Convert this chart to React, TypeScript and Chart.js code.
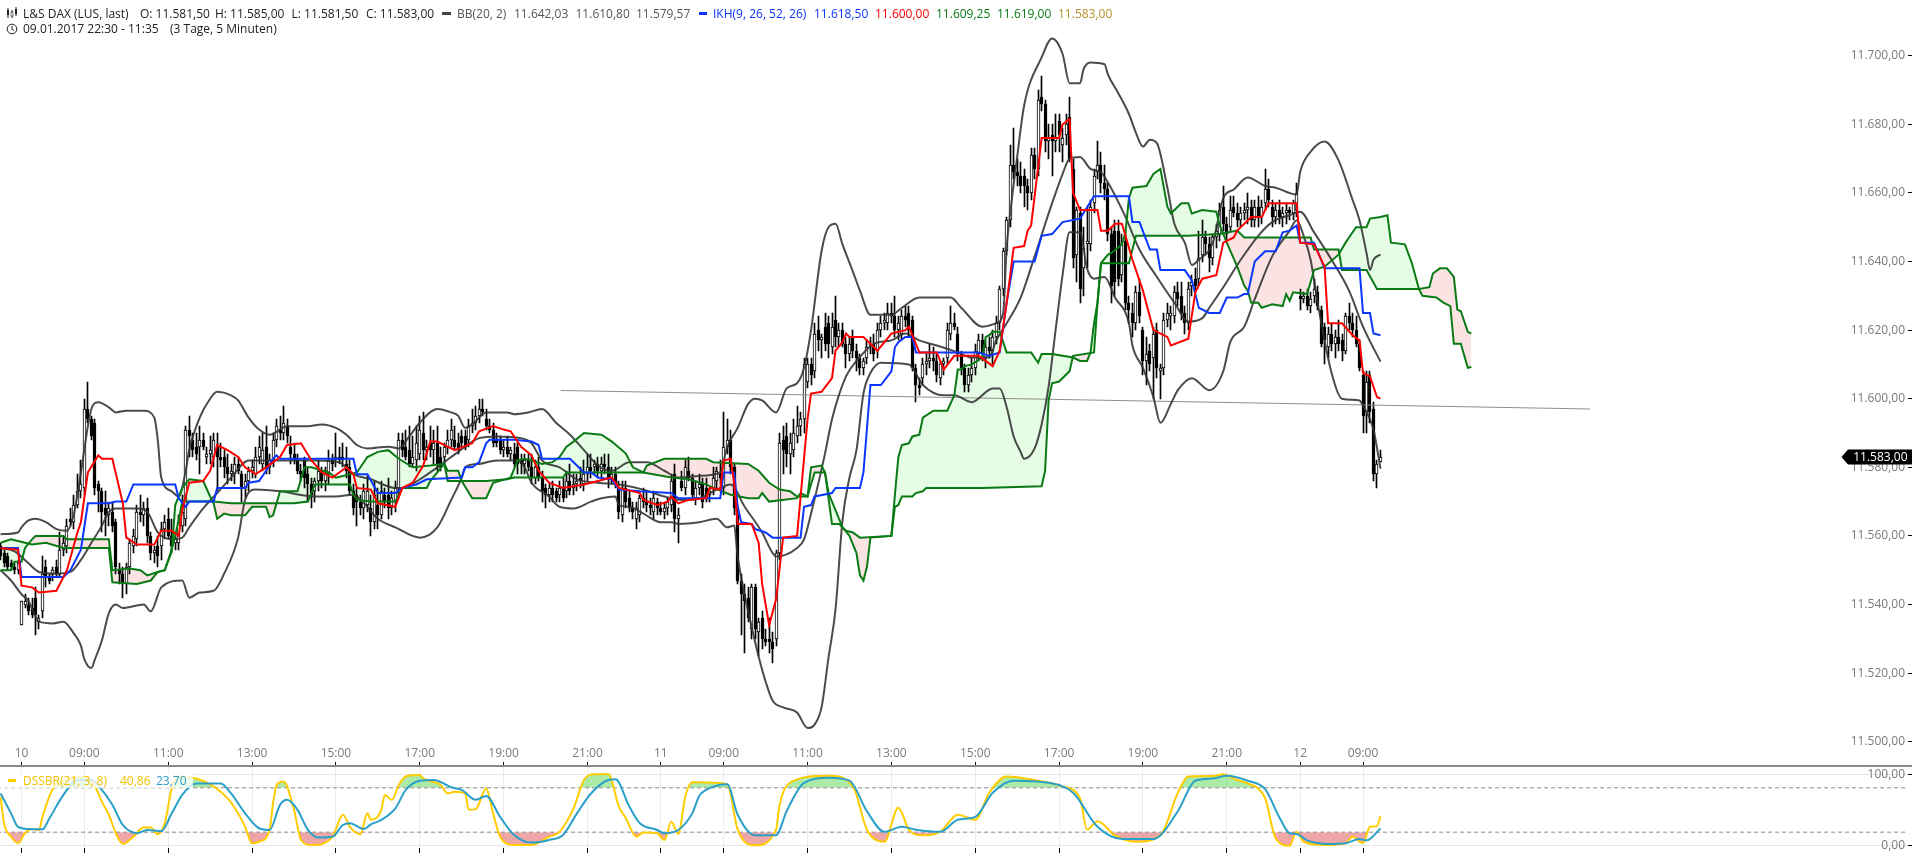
import React, { useEffect, useRef } from "react";
import { Chart, registerables } from "chart.js";

Chart.register(...registerables);

type Row = [number, number, number, number];
type Pt = [number, number];

// candles: [open, high, low, close], one row per 5-minute bar
const candles09to10: Row[] = [
[11557,11558,11553,11554],[11555,11556,11551,11552],[11554,11555,11550,11551],[11552,11553,11550,11551],[11551,11552,11549,11550],[11550,11553,11549,11552],
[11534,11541,11534,11541],[11540,11543,11539,11541],[11540,11542,11537,11538],[11539,11542,11536,11537],[11542,11545,11531,11537],[11535,11537,11533,11536],
[11538,11554,11536,11549],[11551,11553,11545,11548],[11548,11549,11546,11547],[11549,11551,11547,11550],[11551,11553,11548,11549],[11549,11561,11548,11556],
[11556,11560,11554,11558],[11557,11565,11555,11563],[11565,11568,11563,11564],[11564,11572,11562,11569],[11569,11578,11568,11573],[11573,11582,11571,11575],
[11574,11600,11572,11597],[11597,11605,11593,11594],[11594,11595,11588,11589],[11593,11594,11572,11574],[11575,11576,11567,11573],[11573,11574,11561,11567],
[11568,11573,11560,11566],[11566,11570,11563,11568],[11567,11570,11561,11563],[11564,11565,11549,11551],[11550,11552,11546,11549],[11549,11551,11542,11546],
[11546,11552,11543,11551],[11551,11559,11549,11558],[11557,11562,11555,11560],[11559,11569,11557,11567],[11567,11572,11564,11566],[11566,11570,11563,11568],
[11568,11571,11558,11560],[11560,11561,11553,11555],[11555,11557,11552,11556],[11557,11560,11551,11554],[11557,11564,11553,11562],[11562,11566,11559,11564],
[11565,11568,11559,11560],[11560,11565,11555,11557],[11558,11560,11556,11559],[11558,11566,11556,11564],[11563,11572,11561,11567],[11565,11592,11563,11591],
[11591,11595,11583,11589],[11588,11590,11583,11585],[11586,11590,11582,11584],[11586,11592,11578,11588],[11588,11590,11585,11586],[11583,11586,11581,11584],
[11584,11589,11581,11585],[11583,11590,11580,11588],[11586,11590,11573,11583],[11583,11587,11580,11582],[11583,11585,11577,11580],[11580,11584,11575,11578],
[11578,11581,11576,11579],[11578,11583,11575,11581],[11581,11583,11578,11579],[11578,11579,11570,11574],[11574,11578,11571,11576],[11576,11580,11573,11579],
[11579,11582,11577,11580],[11578,11586,11577,11583],[11583,11589,11581,11586],[11581,11590,11579,11585],[11586,11592,11578,11580],[11580,11584,11578,11582],
[11582,11590,11580,11588],[11588,11594,11586,11592],[11591,11595,11588,11590],[11590,11598,11588,11593],[11592,11594,11587,11589],[11586,11589,11581,11584],
[11584,11587,11581,11582],[11582,11584,11578,11579],[11579,11581,11576,11578],[11582,11583,11574,11577],[11578,11580,11570,11575],[11575,11577,11568,11572],
[11573,11577,11570,11576],[11576,11582,11573,11579],[11579,11580,11574,11576],[11576,11580,11573,11578],[11578,11585,11575,11582],[11582,11584,11579,11581],
[11582,11590,11580,11583],[11583,11586,11581,11582],[11583,11587,11580,11582],[11581,11586,11577,11579],[11580,11582,11572,11573],[11573,11575,11566,11568],
[11572,11574,11563,11570],[11570,11572,11566,11568],[11568,11575,11565,11573],[11569,11578,11567,11573],[11568,11572,11560,11564],[11564,11576,11562,11572],
[11569,11574,11562,11566],[11566,11576,11565,11573],[11572,11574,11568,11570],[11572,11577,11565,11568],[11568,11573,11566,11571],[11570,11576,11567,11574],
[11574,11590,11572,11588],[11588,11590,11583,11585],[11586,11591,11582,11583],[11585,11592,11580,11581],[11581,11589,11580,11583],[11582,11592,11579,11587],
[11584,11595,11582,11591],[11590,11596,11582,11585],[11585,11588,11582,11586],[11587,11592,11583,11585],[11585,11591,11581,11587],[11587,11592,11579,11581],
[11583,11586,11579,11580],[11583,11587,11581,11586],[11586,11591,11584,11588],[11588,11594,11586,11591],[11588,11592,11585,11586],[11587,11590,11584,11585],
[11589,11591,11586,11587],[11589,11591,11585,11586],[11588,11594,11586,11592],[11592,11597,11590,11593],[11593,11598,11591,11595],[11595,11600,11593,11597],
[11597,11600,11595,11596],[11594,11597,11591,11592],[11592,11594,11590,11591],[11591,11593,11586,11587],[11588,11590,11586,11587],[11588,11589,11584,11585],
[11585,11588,11583,11586],[11586,11589,11583,11584],[11584,11586,11582,11585],[11584,11587,11580,11581],[11586,11587,11578,11581],[11582,11584,11578,11581],
[11581,11584,11578,11582],[11582,11584,11579,11580],[11580,11584,11575,11577],[11577,11582,11575,11580],[11580,11583,11576,11577],[11577,11579,11570,11573],
[11574,11575,11568,11572],[11572,11575,11570,11574],[11574,11576,11570,11572],[11573,11574,11570,11571],[11572,11576,11570,11574],[11574,11577,11570,11571],
[11573,11579,11571,11576],[11576,11581,11572,11573],[11574,11578,11572,11575],[11575,11578,11573,11576],[11577,11580,11574,11576],[11575,11582,11573,11578],
[11578,11584,11576,11580],[11580,11584,11577,11579],[11580,11582,11578,11581],[11581,11583,11577,11579],[11579,11583,11577,11581],[11581,11584,11578,11580],
[11580,11584,11574,11577],[11577,11580,11575,11578],[11578,11580,11574,11575],[11574,11576,11565,11567],[11566,11576,11564,11574],[11574,11576,11568,11570],
[11571,11573,11567,11568],[11568,11570,11565,11567],[11565,11570,11562,11568],[11566,11572,11564,11571],[11571,11574,11568,11570],[11570,11573,11567,11569],
[11569,11571,11566,11568],[11567,11573,11565,11571],[11570,11571,11566,11568],[11568,11570,11566,11567],[11567,11570,11565,11568],[11568,11571,11566,11570],
[11569,11578,11567,11576],[11578,11581,11561,11565],[11565,11568,11558,11566],[11576,11579,11573,11574],[11574,11582,11572,11580],[11579,11583,11576,11577],
[11577,11578,11571,11572],[11571,11576,11569,11574],[11574,11578,11572,11575],[11575,11577,11568,11570],[11574,11577,11570,11571],[11572,11574,11570,11573],
[11574,11580,11572,11577],[11576,11580,11574,11579],[11578,11582,11575,11577],
];
const candles11Open: Row[] = [
[11574,11596,11572,11586],[11586,11594,11584,11588],[11588,11591,11578,11580],[11580,11581,11566,11568],[11568,11569,11546,11547],[11547,11549,11531,11543],
[11543,11546,11526,11541],[11542,11545,11535,11536],[11533,11546,11530,11545],[11545,11546,11530,11533],[11532,11536,11525,11535],[11536,11538,11527,11530],
[11530,11533,11528,11529],[11530,11536,11526,11529],[11529,11532,11523,11527],[11530,11556,11528,11555],[11555,11590,11553,11587],[11588,11592,11578,11585],
[11589,11593,11580,11584],[11584,11590,11578,11587],[11585,11594,11583,11590],[11589,11598,11587,11592],[11592,11596,11589,11594],[11594,11612,11590,11610],
[11605,11612,11603,11610],[11610,11612,11604,11607],[11608,11622,11606,11619],[11620,11624,11614,11617],[11617,11619,11612,11618],[11621,11625,11614,11616],
[11622,11624,11612,11616],[11615,11625,11613,11621],[11623,11630,11615,11618],[11618,11622,11615,11620],[11620,11622,11615,11616],[11616,11618,11609,11613],
[11613,11618,11611,11616],[11618,11620,11612,11614],[11614,11616,11608,11612],[11612,11613,11607,11609],[11609,11612,11607,11611],[11612,11617,11610,11615],
[11615,11618,11613,11616],[11616,11619,11611,11613],[11614,11622,11612,11620],[11620,11624,11618,11622],[11622,11625,11620,11623],[11622,11628,11620,11625],
[11625,11628,11622,11624],[11624,11630,11618,11620],[11620,11624,11617,11622],[11619,11626,11617,11624],[11624,11627,11621,11623],[11625,11627,11618,11620],
[11623,11624,11608,11609],[11609,11610,11599,11604],[11604,11606,11601,11603],[11606,11612,11604,11610],[11610,11613,11607,11611],[11611,11616,11609,11612],
[11612,11615,11608,11611],[11611,11613,11605,11607],[11606,11611,11604,11610],[11610,11612,11607,11611],[11612,11622,11610,11620],[11619,11627,11617,11622],
[11622,11625,11620,11621],[11619,11621,11611,11613],[11613,11614,11607,11609],[11609,11610,11602,11604],[11604,11609,11602,11607],[11607,11612,11605,11609],
[11609,11616,11607,11614],[11613,11619,11611,11617],[11617,11619,11611,11613],[11612,11617,11609,11615],[11615,11618,11612,11614],[11614,11620,11610,11618],
[11618,11624,11616,11622],[11622,11633,11620,11632],
];
const candles11Evening: Row[] = [
[11632,11644,11630,11643],[11643,11653,11642,11652],[11652,11674,11650,11668],[11668,11679,11664,11666],[11666,11670,11662,11665],[11665,11669,11660,11662],
[11665,11667,11656,11662],[11662,11664,11655,11660],[11660,11673,11658,11671],[11671,11673,11664,11667],[11667,11690,11665,11687],[11688,11694,11684,11686],
[11686,11687,11672,11675],[11675,11680,11670,11676],[11677,11680,11665,11675],[11675,11683,11672,11676],[11681,11683,11672,11677],[11674,11679,11669,11676],
[11677,11683,11674,11680],[11682,11688,11669,11670],[11667,11670,11638,11641],[11642,11656,11634,11655],[11654,11656,11628,11632],[11638,11650,11630,11644],
[11645,11656,11638,11646],[11645,11658,11643,11656],[11657,11667,11654,11665],[11666,11675,11664,11668],[11668,11672,11660,11663],[11663,11668,11658,11661],
[11661,11663,11646,11648],[11648,11650,11628,11633],[11649,11652,11630,11634],[11649,11652,11633,11635],[11636,11648,11634,11645],[11646,11649,11626,11628],
[11628,11630,11622,11626],[11625,11628,11618,11622],[11622,11633,11620,11631],[11631,11635,11622,11624],[11620,11621,11607,11611],[11611,11618,11604,11613],
[11614,11616,11608,11610],[11612,11621,11600,11619],[11620,11622,11606,11609],[11608,11610,11600,11609],[11609,11625,11607,11623],[11623,11628,11621,11625],
[11624,11627,11620,11625],[11624,11633,11622,11631],[11631,11634,11627,11629],[11630,11634,11623,11625],[11625,11627,11619,11622],[11622,11634,11620,11632],
[11633,11636,11630,11634],[11635,11638,11631,11633],[11635,11649,11633,11641],[11642,11652,11640,11647],[11647,11649,11642,11645],[11645,11647,11637,11641],
[11641,11648,11639,11647],[11647,11651,11644,11649],[11648,11657,11646,11655],[11656,11662,11649,11651],[11651,11653,11646,11648],[11650,11659,11649,11655],
[11656,11659,11653,11654],[11654,11657,11650,11652],[11652,11656,11650,11654],[11654,11657,11652,11655],[11655,11660,11651,11656],[11656,11658,11650,11652],
[11652,11658,11650,11656],[11656,11659,11650,11653],[11653,11658,11651,11656],[11657,11667,11655,11661],[11661,11664,11656,11658],[11656,11658,11650,11653],
[11653,11657,11651,11655],[11655,11658,11651,11653],[11653,11656,11650,11654],[11654,11657,11651,11655],[11655,11656,11652,11654],[11654,11658,11652,11657],
[11655,11663,11653,11660],
];
const candles12: Row[] = [
[11630,11632,11626,11629],[11629,11631,11628,11630],[11630,11632,11626,11627],[11627,11631,11625,11629],[11630,11635,11628,11632],[11631,11633,11626,11627],
[11626,11627,11615,11616],[11621,11622,11610,11617],[11615,11621,11612,11619],[11619,11622,11614,11616],[11616,11620,11612,11618],[11618,11623,11614,11616],
[11617,11619,11611,11614],[11614,11625,11613,11624],[11624,11628,11620,11622],[11622,11625,11618,11620],[11620,11624,11615,11616],[11616,11617,11608,11609],
[11607,11608,11590,11595],[11596,11608,11590,11605],[11607,11608,11593,11596],[11597,11599,11576,11578],[11578,11582,11574,11581],[11581.5,11585,11581.5,11583],
];

// Bollinger bands [bar, price]
const bbUpper: Pt[] = [[0,11560.5],[5,11561],[6,11562.5],[8,11564.5],[10,11565],[13,11564],[16,11562],[19,11561.5],[21,11566.5],[23,11578.5],[25,11592],[26,11597],[28,11599],[31,11597.5],[33,11596],[36,11596.5],[41,11596.5],[44,11594.5],[45,11588],[46,11577],[49,11573],[51,11571.5],[53,11579],[54,11585],[57,11594.5],[60,11600],[62,11602],[66,11601],[68,11599.5],[71,11594.5],[74,11591],[77,11589.5],[82,11592],[88,11592],[92,11592.5],[96,11591.5],[99,11589.5],[102,11586.5],[105,11585.5],[111,11586],[114,11585.5],[117,11589],[120,11593],[125,11597],[129,11596],[131,11595],[133,11591.5],[135,11592.5],[139,11596],[145,11596],[147,11595.5],[151,11596],[155,11597],[159,11593],[163,11589.5],[167,11585],[171,11580.5],[175,11579],[180,11581.5],[185,11581.5],[190,11579],[194,11577],[200,11577.5],[206,11578.5],[208,11586],[211,11591.5],[214,11598.5],[216,11600],[218,11599.5],[222,11596],[225,11603],[228,11604.5],[230,11609],[232,11620],[235,11643],[237,11650],[239,11651],[241,11645],[244,11637],[246,11631.5],[249,11624.5],[255,11624.5],[258,11626.5],[263,11629.5],[272,11629.5],[275,11626.5],[281,11621],[285,11622],[287,11625],[288,11644],[289,11654],[291,11670.5],[293,11685.5],[298,11699.5],[301,11705],[304,11700.5],[306,11692],[309,11692],[310,11696],[312,11698],[316,11697.5],[317,11694.5],[320,11689],[323,11683],[325,11677.5],[327,11673.5],[329,11675.5],[331,11674.5],[334,11661.5],[336,11651],[339,11645.5],[341,11639],[343,11640.5],[347,11645.5],[350,11658.5],[353,11661],[357,11664.5],[362,11662],[365,11661.5],[371,11659.5],[372,11666],[375,11672],[379,11675],[383,11669.5],[387,11658],[389,11652],[391,11642.5],[392,11637.5],[393,11640.5],[395,11642.03]];
const bbMiddle: Pt[] = [[0,11556.5],[4,11555.5],[8,11552],[11,11549.5],[16,11549],[20,11549.5],[23,11553],[26,11558],[29,11563],[31,11567],[33,11568],[39,11568],[42,11567],[45,11561],[49,11559],[52,11559.5],[54,11562.5],[58,11568],[62,11572.5],[66,11577],[71,11582],[75,11582],[90,11582],[97,11581.5],[101,11578],[106,11576.5],[113,11574],[115,11574],[120,11576.5],[125,11580],[131,11584.5],[137,11588.5],[142,11589],[149,11588.5],[152,11587],[155,11582],[160,11580],[165,11576.5],[171,11575.5],[177,11575],[184,11573.5],[190,11571.5],[195,11570.5],[200,11571],[205,11573.5],[209,11575],[213,11568.5],[218,11561],[221,11555],[222,11554],[228,11556.5],[230,11559],[232,11566.5],[236,11584],[238,11594],[242,11606.5],[245,11611],[250,11616],[255,11617],[259,11619],[263,11617],[268,11615.5],[274,11613.5],[278,11612],[283,11612],[285,11617],[288,11622],[292,11629.5],[296,11641.5],[301,11657],[304,11665.5],[306,11670],[309,11670.5],[312,11667],[315,11666],[317,11663],[322,11653],[326,11643.5],[331,11635.5],[336,11628],[340,11622.5],[344,11623.5],[346,11626.5],[350,11632.5],[355,11640.5],[360,11647.5],[364,11651.5],[369,11653.5],[372,11654.5],[376,11648.5],[381,11640.5],[386,11631.5],[390,11621],[395,11610.8]];
const bbLower: Pt[] = [[0,11550],[3,11547],[6,11543],[8,11541],[11,11535],[15,11534.5],[18,11535],[21,11531.5],[23,11528],[24,11524],[26,11521.5],[27,11524],[29,11529.5],[31,11537.5],[33,11540],[35,11539],[41,11540],[43,11538],[46,11545],[52,11547],[54,11542],[57,11543.5],[61,11544],[64,11549],[68,11559.5],[70,11570.5],[73,11573.5],[80,11573],[90,11571.5],[96,11571.5],[101,11572],[104,11569.5],[108,11565],[113,11562.5],[120,11559.5],[125,11562.5],[129,11570.5],[132,11577],[133,11580],[137,11581],[142,11582],[148,11582],[150,11580],[152,11575.5],[157,11571.5],[160,11568.5],[164,11568],[169,11570],[172,11571],[176,11571.5],[177,11569],[180,11568.5],[184,11566.5],[189,11564],[192,11564],[194,11563.5],[200,11564],[205,11565],[208,11562.5],[210,11563],[211,11554],[215,11533.5],[218,11521],[221,11512],[224,11510],[228,11508.5],[231,11504],[233,11505],[235,11510],[237,11524.5],[239,11538.5],[241,11564.5],[243,11577],[245,11585],[247,11601.5],[249,11607.5],[252,11610.5],[260,11610],[264,11604],[270,11601],[273,11601],[278,11599],[284,11603],[286,11603],[288,11597.5],[290,11589],[292,11584.5],[293,11582.5],[296,11585.5],[298,11592.5],[300,11603.5],[302,11620],[304,11636],[306,11648.5],[309,11648.5],[311,11638],[313,11635],[316,11635.5],[319,11629.5],[323,11622],[324,11615.5],[327,11609],[330,11600.5],[332,11593],[335,11598.5],[337,11602.5],[341,11606],[346,11602.5],[350,11608],[352,11616.5],[356,11621],[359,11629],[364,11641.5],[369,11649],[371,11652],[373,11647.5],[375,11640.5],[377,11628],[381,11607.5],[384,11600],[389,11599.5],[390,11598],[393,11591],[395,11579.57]];

// Ichimoku lines [bar, price]
const ikhTenkan: Pt[] = [[0,11556.5],[5,11556.5],[6,11548],[18,11548],[20,11550],[23,11556],[25,11569.5],[31,11569.5],[33,11570],[36,11570],[38,11575],[50,11575],[51,11571],[53,11568.5],[54,11570],[61,11570],[62,11574],[66,11574],[70,11574],[71,11575.5],[74,11576],[76,11579],[78,11582.5],[79,11583.5],[80,11582.5],[101,11582.5],[102,11578],[105,11578],[108,11572.5],[113,11572.5],[115,11574],[119,11575],[122,11576.5],[132,11577],[133,11580],[135,11580],[137,11581.5],[139,11587],[140,11588],[147,11588],[152,11587.5],[154,11586.5],[155,11582.5],[163,11582.5],[167,11578.5],[169,11578.5],[171,11577],[175,11576.5],[177,11573.5],[183,11573],[192,11572.5],[194,11571],[206,11571],[207,11578.5],[210,11578.5],[211,11568.5],[212,11564],[215,11563.5],[216,11562],[219,11561],[221,11559.5],[229,11559.5],[230,11568.5],[232,11569],[233,11571.5],[238,11572.5],[239,11574],[246,11574],[247,11578.5],[249,11604],[252,11604],[255,11608],[256,11615],[257,11616.5],[259,11618],[261,11618],[262,11613.5],[280,11613.5],[283,11612.5],[286,11613.5],[288,11628],[290,11640],[296,11640],[298,11647.5],[301,11648],[304,11651.5],[309,11652.5],[313,11659],[323,11659],[324,11651.5],[326,11651.5],[329,11643.5],[331,11643.5],[332,11637.5],[339,11637.5],[341,11634.5],[343,11626.5],[346,11625],[349,11625],[351,11629.5],[354,11629.5],[356,11630.5],[357,11630.5],[359,11640],[362,11643],[365,11643],[367,11648.5],[369,11649],[371,11650.5],[372,11645.5],[376,11645.5],[379,11638],[389,11638],[390,11625],[392,11625],[393,11619],[395,11618.5]];
const ikhKijun: Pt[] = [[0,11556.5],[5,11556],[6,11545.5],[9,11545],[11,11543.5],[16,11544],[19,11550],[22,11561],[23,11564],[25,11578.5],[28,11583.5],[29,11582.5],[32,11582.5],[35,11569.5],[36,11559.5],[39,11557.5],[44,11557.5],[46,11561.5],[49,11561.5],[51,11560],[52,11567.5],[54,11575.5],[58,11576],[60,11579],[62,11586.5],[65,11585],[68,11583],[70,11580],[73,11578],[76,11580],[80,11583],[82,11586.5],[86,11587],[89,11582],[92,11578.5],[95,11577],[99,11580],[101,11578],[102,11574],[106,11573.5],[108,11569.5],[113,11568.5],[115,11574],[118,11575.5],[121,11580.5],[123,11587.5],[125,11587.5],[130,11585],[135,11587],[137,11590.5],[141,11592],[144,11591],[146,11590.5],[149,11586],[152,11583.5],[154,11579],[157,11575.5],[161,11574],[167,11575],[171,11576],[175,11577],[177,11574],[183,11572.5],[184,11570.5],[188,11569],[191,11570],[192,11571.5],[194,11569.5],[197,11570.5],[202,11571],[203,11574],[206,11573.5],[207,11582],[209,11582.5],[210,11575.5],[211,11563.5],[215,11563.5],[217,11558],[218,11546],[220,11534],[222,11541.5],[224,11559.5],[228,11560],[231,11594],[232,11601.5],[235,11602],[238,11606],[239,11614],[241,11616.5],[242,11619],[243,11618],[247,11618],[249,11616],[251,11614],[255,11619],[259,11620],[260,11621],[263,11613.5],[268,11613.5],[270,11608.5],[273,11612.5],[280,11612.5],[284,11609.5],[286,11614],[288,11628],[290,11644],[293,11644.5],[294,11649],[295,11650.5],[298,11676],[303,11676],[304,11680],[306,11681.5],[307,11660],[309,11655],[314,11655],[315,11649],[317,11649],[319,11651],[321,11651],[324,11640.5],[327,11631.5],[330,11620],[334,11618],[335,11615.5],[340,11617.5],[342,11631],[344,11635],[348,11636],[350,11645.5],[353,11647],[354,11649],[358,11653],[361,11653],[363,11657],[371,11657],[372,11645.5],[376,11645],[379,11638.5],[380,11622],[384,11622],[387,11618.5],[389,11617],[390,11607.5],[392,11606.5],[394,11600.5],[395,11600]];
const senkouA: Pt[] = [[0,11558],[3,11559],[7,11558],[9,11557.5],[13,11558],[18,11556.5],[31,11556.5],[32,11546.5],[39,11546],[43,11547],[45,11549.5],[47,11550],[49,11555.5],[50,11569],[52,11574],[54,11576.5],[58,11576],[60,11571.5],[61,11569.5],[62,11565],[64,11566.5],[66,11566],[70,11566],[72,11568.5],[76,11568.5],[77,11565.5],[78,11566],[80,11573],[85,11573],[87,11580],[89,11580],[94,11578.5],[96,11577],[100,11578],[102,11578.5],[105,11583],[108,11584.5],[111,11585],[114,11582.5],[118,11580],[123,11580.5],[127,11581],[128,11576],[132,11576],[135,11571],[139,11571],[141,11575.5],[146,11577],[148,11582],[150,11582.5],[152,11582],[155,11581],[158,11581.5],[160,11583],[162,11586],[164,11587.5],[167,11590],[172,11589.5],[175,11587.5],[179,11584],[181,11580],[184,11578.5],[192,11577],[197,11576.5],[202,11575],[204,11574],[209,11572],[214,11571],[217,11571],[218,11572.5],[220,11570],[228,11571],[229,11572.5],[231,11571.5],[233,11578.5],[236,11578.5],[237,11572.5],[241,11562.5],[243,11560],[245,11555],[246,11548.5],[247,11547],[248,11551],[249,11559.5],[255,11560],[256,11572],[257,11583],[258,11586.5],[260,11587],[261,11589],[263,11589.5],[264,11594.5],[267,11596.5],[271,11596.5],[273,11601],[274,11608.5],[275,11608.5],[276,11609.5],[278,11610],[281,11612],[282,11618],[283,11618.5],[284,11619.5],[286,11619.5],[288,11613.5],[292,11613.5],[295,11613.5],[297,11610.5],[298,11613],[301,11613],[307,11612],[309,11611],[311,11611],[312,11613.5],[313,11622],[314,11628],[315,11639.5],[317,11642],[318,11642.5],[321,11645],[322,11648.5],[323,11658.5],[324,11661.5],[328,11662],[330,11665.5],[332,11667],[334,11656],[335,11654],[338,11657],[340,11657],[341,11654],[344,11655],[348,11654.5],[349,11650.5],[351,11645.5],[354,11638.5],[356,11633],[357,11631.5],[358,11628],[360,11628],[361,11626.5],[364,11627.5],[367,11627],[368,11630.5],[369,11628.5],[370,11631],[374,11630.5],[376,11637.5],[379,11638.5],[383,11642],[385,11645.5],[386,11647],[388,11650],[391,11650],[392,11652.5],[395,11653],[397,11653.5],[398,11645.5],[402,11645],[404,11639.5],[406,11632],[407,11630],[411,11629.5],[413,11628],[415,11627],[416,11616],[418,11616],[420,11609],[421,11609.25]];
const senkouB: Pt[] = [[0,11550],[3,11550],[4,11552.5],[6,11552.5],[7,11556.5],[9,11559],[10,11560],[18,11560],[19,11559],[31,11559],[32,11550],[37,11550.5],[40,11550],[42,11548.5],[45,11549.5],[47,11550],[49,11556],[51,11564.5],[52,11570],[61,11570],[66,11569.5],[84,11569.5],[88,11570],[90,11575],[100,11575],[101,11572],[102,11570.5],[106,11570],[113,11570],[115,11574],[122,11574],[123,11576],[127,11581],[128,11579],[131,11579],[132,11576],[139,11576],[145,11576.5],[147,11577],[161,11577],[162,11578.5],[169,11578.5],[184,11578.5],[185,11580.5],[190,11582.5],[202,11582.5],[204,11581.5],[214,11581],[217,11579],[220,11575.5],[223,11573.5],[226,11573],[228,11571.5],[231,11571.5],[232,11580],[235,11580.5],[236,11578.5],[238,11563.5],[240,11563.5],[242,11561.5],[244,11561],[246,11559.5],[255,11560],[256,11568.5],[257,11569],[258,11571.5],[261,11571.5],[262,11572.5],[264,11573],[265,11574],[281,11574],[298,11574.5],[299,11579],[300,11599.5],[301,11604.5],[303,11605],[306,11608],[307,11612.5],[313,11613.5],[314,11628],[315,11639.5],[323,11639.5],[325,11647.5],[340,11647.5],[349,11648],[354,11649],[356,11647],[375,11647],[376,11643.5],[383,11643.5],[384,11637.5],[391,11637.5],[394,11632],[406,11632],[409,11632.5],[410,11636.5],[412,11638],[414,11638],[416,11635.5],[417,11626],[418,11625.5],[420,11619.5],[421,11619]];
const trendLine: Pt[] = [[160.4,11602.4],[455,11597]];

// DSSBR oscillator [bar, value]
const dssSignal: Pt[] = [[0,68.5],[1,31],[3,12],[5,3],[7,17],[9,23],[11,21.6],[12,40],[15,80],[20,94],[24,97],[27,83],[29,61.5],[31,43],[33,17],[35,2],[38,12],[41,25],[43,25],[45,15.5],[47,31],[49,80],[51,97],[56,94],[61,83],[65,66],[68,45],[70,26],[72,3],[74,5],[77,21.6],[78,59],[79,85],[81,90],[84,50],[86,7.5],[89,0.5],[95,12],[98,43],[100,26],[103,15.5],[105,45],[106,36],[109,50],[110,71],[112,64],[114,85],[116,97],[120,99],[121,94],[126,85],[128,73],[130,75.5],[133,73],[134,50],[136,51],[139,80],[141,45],[143,12],[147,0.5],[152,0.5],[157,12],[160,19],[164,52],[167,92],[170,100],[174,100.5],[177,54.5],[179,38],[182,12],[184,18],[188,17],[190,7.5],[192,33],[194,16],[196,68.5],[198,88.7],[200,88.7],[208,86],[211,22],[216,0],[222,22],[223,57],[227,91],[237,98],[244,83],[248,22],[253,5],[257,53],[260,22],[264,14],[269,19],[274,43],[279,36],[283,74],[288,97],[297,91],[304,83],[309,66],[311,22],[314,34],[319,14],[325,5],[332,14],[337,74],[340,97],[347,97.7],[350,100],[353,94],[357,87],[360,80],[362,66],[365,10],[369,-0.5],[371,19],[373,5],[379,0.5],[385,3],[387,12],[390,3],[392,26],[394,27],[395,40.86]];
const dssMain: Pt[] = [[0,73],[3,45],[5,26],[8,23],[12,22.5],[14,38],[18,71],[22,92],[26,92],[29,78],[32,57],[35,28.6],[39,17],[42,21.6],[46,20],[49,45],[52,71],[56,87],[63,87],[66,73],[70,45],[74,24],[77,21.6],[80,57],[82,64],[85,50],[88,21.6],[91,11],[95,12],[98,28.6],[100,31],[104,23],[106,29.6],[109,35.7],[113,52],[116,78],[120,91],[124,92],[129,81.7],[132,78],[136,64],[139,69.5],[143,40],[147,14.5],[152,3.8],[157,7.5],[161,14.5],[165,45],[169,73],[174,92],[176,93],[180,54.5],[183,31],[188,21.6],[190,17],[194,21.6],[198,45],[200,69.5],[202,78],[208,86],[211,43],[216,14],[222,14],[225,48],[230,88],[237,95],[243,91],[248,48],[253,19],[258,26],[262,22],[269,19],[274,36],[279,40],[284,74],[290,91],[300,88],[307,74],[314,26],[321,9],[330,9],[337,48],[342,91],[347,94],[351,98],[357,91],[362,79],[366,40],[369,17],[371,16],[374,7],[380,2],[385,3],[389,9],[391,7],[395,23.7]];
const dssBandUpper: Pt[] = [[-1,81],[546,81]];
const dssBandLower: Pt[] = [[-1,18.5],[546,18.5]];

// axes
const priceTicks = [11500, 11520, 11540, 11560, 11580, 11600, 11620, 11640, 11660, 11680, 11700];
const dssTicks = [0, 100];
const timeTickBars = [6, 24, 48, 72, 96, 120, 144, 168, 189, 207, 231, 255, 279, 303, 327, 351, 372, 390];
const timeTickLabels = ["10", "09:00", "11:00", "13:00", "15:00", "17:00", "19:00", "21:00", "11", "09:00", "11:00", "13:00", "15:00", "17:00", "19:00", "21:00", "12", "09:00"];
const lastPriceLabel = 11583;

const FONT = "'Open Sans', Roboto, sans-serif";
const GREY = "#7a7a7a";
const xMin = -0.16;
const xMax = 545.86;
const allCandles: Row[] = [...candles09to10, ...candles11Open, ...candles11Evening, ...candles12];

const de = (v: number) => v.toLocaleString("de-DE", { minimumFractionDigits: 2, maximumFractionDigits: 2 });
const pts = (list: Pt[]) => list.map(([x, y]) => ({ x, y }));
const lineDs = (label: string, list: Pt[], color: string, order: number, extra: object = {}) => ({
  type: "line", label, data: pts(list), borderColor: color, borderWidth: 2, pointRadius: 0, tension: 0, fill: false, order, ...extra,
});
const noMargins = (s: any) => {
  s.paddingTop = 0;
  s.paddingBottom = 0;
  s.paddingLeft = 0;
  s.paddingRight = 0;
};

const snapBars = {
  id: "snapBars",
  beforeDraw(chart: any) {
    chart.data.datasets.forEach((d: any, i: number) => {
      if (d.type !== "bar") return;
      chart.getDatasetMeta(i).data.forEach((el: any) => {
        el.x = Math.floor(el.x) + 0.5;
        el.y = Math.round(el.y);
        el.base = Math.round(el.base);
      });
    });
  },
};

const priceTag = {
  id: "priceTag",
  afterDraw(chart: any) {
    const ctx = chart.ctx;
    const y = chart.scales.y.getPixelForValue(lastPriceLabel);
    ctx.save();
    ctx.fillStyle = "#000";
    ctx.beginPath();
    ctx.moveTo(1841.5, y);
    ctx.lineTo(1848, y - 7.5);
    ctx.lineTo(1912, y - 7.5);
    ctx.lineTo(1912, y + 7.5);
    ctx.lineTo(1848, y + 7.5);
    ctx.closePath();
    ctx.fill();
    ctx.fillStyle = "#fff";
    ctx.font = `12px ${FONT}`;
    ctx.textAlign = "right";
    ctx.textBaseline = "middle";
    ctx.fillText(de(lastPriceLabel), 1907.5, y + 0.5);
    ctx.restore();
  },
};

const Txt = ({ x, y, c, children }: any) => (
  <span style={{ position: "absolute", left: x, top: y, color: c, whiteSpace: "nowrap", font: `12px/14px ${FONT}` }}>{children}</span>
);
const Dash = ({ x, y, w, c }: any) => <span style={{ position: "absolute", left: x, top: y, width: w, height: 3, background: c }} />;

export default function App() {
  const mainRef = useRef<HTMLCanvasElement>(null);
  const dssRef = useRef<HTMLCanvasElement>(null);

  useEffect(() => {
    document.body.style.margin = "0";
    const wicks = allCandles.map((r, i) => ({ x: i, y: [Math.min(r[2], r[0], r[3]), Math.max(r[1], r[0], r[3])] }));
    const bodies = allCandles.map((r, i) => ({ x: i, y: [r[0], r[3]] }));
    const bodyColors = allCandles.map((r) => (r[3] >= r[0] ? "#ffffff" : "#000000"));
    const main = new Chart(mainRef.current as HTMLCanvasElement, {
      type: "line",
      data: {
        datasets: [
          lineDs("IKH Kijun", ikhKijun, "#ff0000", 1),
          lineDs("IKH Tenkan", ikhTenkan, "#0a36ff", 2),
          lineDs("IKH Senkou A", senkouA, "#0a7a14", 3, { fill: { target: 3, above: "rgba(40,230,40,0.12)", below: "rgba(225,40,40,0.13)" } }),
          lineDs("IKH Senkou B", senkouB, "#0a7a14", 3),
          lineDs("BB Upper", bbUpper, "rgba(50,50,50,0.88)", 5, { cubicInterpolationMode: "monotone" }),
          lineDs("BB Middle", bbMiddle, "rgba(50,50,50,0.88)", 5, { cubicInterpolationMode: "monotone" }),
          lineDs("BB Lower", bbLower, "rgba(50,50,50,0.88)", 5, { cubicInterpolationMode: "monotone" }),
          lineDs("Trend", trendLine, "#8f8f8f", 6, { borderWidth: 1.2 }),
          { type: "bar", label: "Body", data: bodies, backgroundColor: bodyColors, borderColor: "#000", borderWidth: 1, borderSkipped: false, barThickness: 3, grouped: false, order: 8 },
          { type: "bar", label: "Wick", data: wicks, backgroundColor: "#000", borderWidth: 0, barThickness: 1, grouped: false, order: 9 },
        ] as any,
      },
      options: {
        animation: false,
        responsive: false,
        devicePixelRatio: 1,
        events: [],
        layout: { padding: 0 },
        plugins: { legend: { display: false }, tooltip: { enabled: false }, filler: { drawTime: "beforeDatasetsDraw" } as any },
        scales: {
          x: { type: "linear", display: false, min: xMin, max: xMax, offset: false },
          y: {
            position: "right",
            min: 11492.92,
            max: 11716.24,
            afterBuildTicks: (s: any) => { s.ticks = priceTicks.map((value) => ({ value })); },
            afterFit: (s: any) => { s.width = 4.5; noMargins(s); },
            grid: { drawOnChartArea: false, drawTicks: true, tickLength: 4.5, tickColor: "#000" },
            border: { display: false },
            ticks: { mirror: true, padding: -2.5, color: GREY, font: { family: FONT, size: 12 }, callback: (v: any) => de(Number(v)) },
          },
        },
      } as any,
      plugins: [snapBars, priceTag],
    });

    const timeAxis = {
      type: "linear",
      min: xMin,
      max: xMax,
      offset: false,
      afterBuildTicks: (s: any) => { s.ticks = timeTickBars.map((value) => ({ value })); },
    };
    const dss = new Chart(dssRef.current as HTMLCanvasElement, {
      type: "line",
      data: {
        datasets: [
          lineDs("DSS Main", dssMain, "#2a9fc9", 1, { cubicInterpolationMode: "monotone" }),
          lineDs("DSS Signal", dssSignal, "#ffcc00", 2, { cubicInterpolationMode: "monotone", fill: { target: { value: 81 }, above: "rgba(90,215,80,0.5)", below: "rgba(0,0,0,0)" } }),
          lineDs("DSS Low Fill", dssSignal, "rgba(0,0,0,0)", 3, { cubicInterpolationMode: "monotone", borderWidth: 0, fill: { target: { value: 18.5 }, above: "rgba(0,0,0,0)", below: "rgba(220,70,70,0.48)" } }),
          lineDs("Upper Band", dssBandUpper, "#8a8a8a", 4, { borderWidth: 1, borderDash: [4, 3] }),
          lineDs("Lower Band", dssBandLower, "#8a8a8a", 4, { borderWidth: 1, borderDash: [4, 3] }),
        ] as any,
      },
      options: {
        animation: false,
        responsive: false,
        devicePixelRatio: 1,
        events: [],
        layout: { padding: 0 },
        plugins: { legend: { display: false }, tooltip: { enabled: false }, filler: { drawTime: "beforeDatasetsDraw" } as any },
        scales: {
          x: {
            ...timeAxis,
            position: "top",
            afterFit: (s: any) => { s.height = 28; noMargins(s); },
            grid: { drawOnChartArea: false, drawTicks: true, tickLength: 4, tickColor: "#000" },
            border: { display: false },
            ticks: { autoSkip: false, maxRotation: 0, padding: 1, color: GREY, font: { family: FONT, size: 12 }, callback: (v: any) => timeTickLabels[timeTickBars.indexOf(Number(v))] },
          },
          x2: {
            ...timeAxis,
            position: "bottom",
            afterFit: (s: any) => { s.height = 5; noMargins(s); },
            grid: { color: "#ececec", drawTicks: true, tickLength: 5, tickColor: "#000" },
            border: { display: false },
            ticks: { display: false, autoSkip: false },
          },
          y: {
            position: "right",
            min: -3.8,
            max: 111.7,
            afterBuildTicks: (s: any) => { s.ticks = dssTicks.map((value) => ({ value })); },
            afterFit: (s: any) => { s.width = 4.5; noMargins(s); },
            grid: { color: "#e6e6e6", drawTicks: true, tickLength: 4.5, tickColor: "#000" },
            border: { display: false },
            ticks: { mirror: true, padding: -2.5, color: GREY, font: { family: FONT, size: 12 }, callback: (v: any) => de(Number(v)) },
          },
        },
      } as any,
    });
    return () => {
      main.destroy();
      dss.destroy();
    };
  }, []);

  return (
    <div style={{ position: "absolute", left: 0, top: 0, width: 1912, height: 853, overflow: "hidden", background: "#fff" }}>
      <canvas ref={mainRef} width={1912} height={766} style={{ position: "absolute", left: 0, top: 0, width: 1912, height: 766 }} />
      <canvas ref={dssRef} width={1912} height={115} style={{ position: "absolute", left: 0, top: 738, width: 1912, height: 115 }} />
      <div style={{ position: "absolute", left: 0, top: 765, width: 1912, height: 2, background: "#8c8c8c" }} />

      <svg width="12" height="12" style={{ position: "absolute", left: 6, top: 7 }}>
        <path d="M2 1v10M6 3v8M10 0v9" stroke="#222" strokeWidth="1" />
        <rect x="1" y="3" width="2" height="5" fill="#222" />
        <rect x="5" y="5" width="2" height="4" fill="#fff" stroke="#222" strokeWidth="0.6" />
        <rect x="9" y="2" width="2" height="5" fill="#222" />
      </svg>
      <Txt x={23} y={6.5} c="#222">L&amp;S DAX (LUS, last)</Txt>
      <Txt x={140} y={6.5} c="#222">O: 11.581,50</Txt>
      <Txt x={215} y={6.5} c="#222">H: 11.585,00</Txt>
      <Txt x={291.5} y={6.5} c="#222">L: 11.581,50</Txt>
      <Txt x={366} y={6.5} c="#222">C: 11.583,00</Txt>
      <Dash x={442} y={11.5} w={9} c="#444" />
      <Txt x={457} y={6.5} c="#555">BB(20, 2)</Txt>
      <Txt x={514} y={6.5} c="#555">11.642,03</Txt>
      <Txt x={575.5} y={6.5} c="#555">11.610,80</Txt>
      <Txt x={636} y={6.5} c="#555">11.579,57</Txt>
      <Dash x={699} y={11.5} w={8} c="#0a36ff" />
      <Txt x={713} y={6.5} c="#0a36ff">IKH(9, 26, 52, 26)</Txt>
      <Txt x={814} y={6.5} c="#0a36ff">11.618,50</Txt>
      <Txt x={875} y={6.5} c="#ff0000">11.600,00</Txt>
      <Txt x={936} y={6.5} c="#0a7a14">11.609,25</Txt>
      <Txt x={997} y={6.5} c="#0a7a14">11.619,00</Txt>
      <Txt x={1058} y={6.5} c="#b8912a">11.583,00</Txt>

      <svg width="12" height="12" style={{ position: "absolute", left: 6, top: 23 }}>
        <circle cx="6" cy="6" r="4.8" fill="none" stroke="#222" strokeWidth="1" />
        <path d="M6 3v3.3l2.2 1.2" fill="none" stroke="#222" strokeWidth="1" />
      </svg>
      <Txt x={23} y={22} c="#222">09.01.2017 22:30 - 11:35</Txt>
      <Txt x={170} y={22} c="#222">(3 Tage, 5 Minuten)</Txt>

      <div style={{ position: "absolute", left: 0, top: 774, width: 193, height: 14, background: "rgba(255,255,255,0.78)" }} />
      <Dash x={8} y={779} w={8} c="#ffcc00" />
      <Txt x={23} y={774} c="#f2c200">DSSBR(21, 3, 8)</Txt>
      <Txt x={120} y={774} c="#f2c200">40,86</Txt>
      <Txt x={156} y={774} c="#2a9fc9">23,70</Txt>
    </div>
  );
}
